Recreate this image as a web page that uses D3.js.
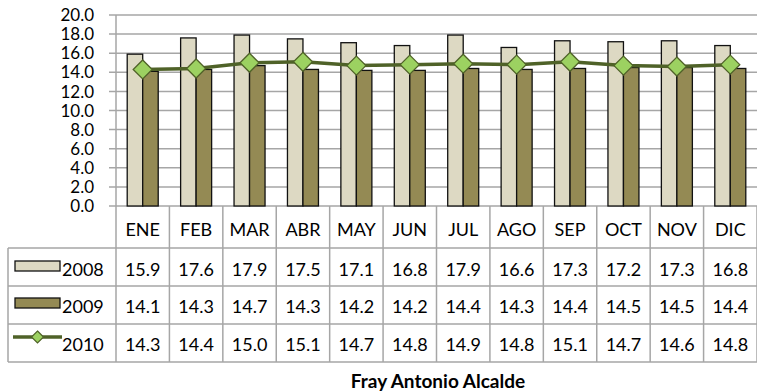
<!DOCTYPE html>
<html><head><meta charset="utf-8">
<script src="https://cdn.jsdelivr.net/npm/d3@7/dist/d3.min.js"></script>
<style>body{margin:0;background:#fff}svg{display:block}text{font-family:Lato,"Open Sans",sans-serif;fill:#000}</style>
</head><body><svg id="c" width="757" height="392"></svg>
<script>
const months = ["ENE","FEB","MAR","ABR","MAY","JUN","JUL","AGO","SEP","OCT","NOV","DIC"];
const s2008 = [15.9,17.6,17.9,17.5,17.1,16.8,17.9,16.6,17.3,17.2,17.3,16.8];
const s2009 = [14.1,14.3,14.7,14.3,14.2,14.2,14.4,14.3,14.4,14.5,14.5,14.4];
const s2010 = [14.3,14.4,15.0,15.1,14.7,14.8,14.9,14.8,15.1,14.7,14.6,14.8];
const seriesNames = ["2008","2009","2010"];
const yTicks = [0,2,4,6,8,10,12,14,16,18,20];
const title = "Fray Antonio Alcalde";

(function(){
const svg = d3.select("#c");
const pL = 116, pR = 757, pT = 15, pB = 206;
const x = d3.scaleBand().domain(months).range([pL, pR]);
const y = d3.scaleLinear().domain([0,20]).range([pB, pT]);
const gridC = "#A6A6A6";

svg.append("g").selectAll("line").data(yTicks).join("line")
  .attr("x1", pL-7).attr("x2", pR).attr("y1", d=>y(d)).attr("y2", d=>y(d))
  .attr("stroke", gridC).attr("stroke-width", 1.5);
svg.append("line").attr("x1",pL).attr("x2",pL).attr("y1",pT).attr("y2",pB).attr("stroke",gridC).attr("stroke-width",1.5);
svg.append("g").selectAll("text").data(yTicks).join("text")
  .attr("x", 94).attr("y", d=>y(d)).attr("dy","0.36em").attr("text-anchor","end")
  .attr("font-size",17).text(d=>d.toFixed(1));

const bw = 15.5;
const colors = ["#DDD9C3","#948A54"];
[s2008, s2009].forEach((s,i)=>{
  svg.append("g").selectAll("rect").data(s).join("rect")
    .attr("x",(d,j)=>x(months[j]) + x.bandwidth()/2 - bw + i*bw)
    .attr("y", d=>y(d)).attr("width", bw).attr("height", d=>y(0)-y(d))
    .attr("fill", colors[i]).attr("stroke","#111").attr("stroke-width",1.3);
});
const cx = (j)=>x(months[j]) + x.bandwidth()/2;
const line = d3.line().x((d,j)=>cx(j)).y(d=>y(d));
svg.append("path").datum(s2010).attr("d", line).attr("fill","none").attr("stroke","#4F6228").attr("stroke-width",3.5);
const diamond = (px,py,r)=>`M${px},${py-r}L${px+r},${py}L${px},${py+r}L${px-r},${py}Z`;
svg.append("g").selectAll("path").data(s2010).join("path")
  .attr("d",(d,j)=>diamond(cx(j), y(d), 9.5))
  .attr("fill","#9CD161").attr("stroke","#4F6228").attr("stroke-width",1.3);

const rowY = [206, 248, 286, 324, 362];
const tg = svg.append("g");
rowY.forEach((ry,i)=>{
  if(i===0) return;
  tg.append("line").attr("x1", 8).attr("x2", pR).attr("y1", ry).attr("y2", ry).attr("stroke",gridC).attr("stroke-width",1.5);
});
const bounds = months.map(m=>x(m)).concat([pR]);
bounds.forEach(bx=>{
  tg.append("line").attr("x1",bx).attr("x2",bx).attr("y1",206).attr("y2",362).attr("stroke",gridC).attr("stroke-width",1.5);
});
tg.append("line").attr("x1",8).attr("x2",8).attr("y1",248).attr("y2",362).attr("stroke",gridC).attr("stroke-width",1.5);

tg.selectAll("text.h").data(months).join("text").attr("class","h")
  .attr("x", m=>x(m)+x.bandwidth()/2).attr("y", 236).attr("text-anchor","middle").attr("font-size",18).text(m=>m);
const rows = [s2008, s2009, s2010];
const baselines = [276, 313, 351];
rows.forEach((s,i)=>{
  tg.append("g").selectAll("text").data(s).join("text")
    .attr("x",(d,j)=>cx(j)).attr("y", baselines[i]).attr("text-anchor","middle").attr("font-size",18).text(d=>d.toFixed(1));
  tg.append("text").attr("x", 62).attr("y", baselines[i]).attr("font-size",18).text(seriesNames[i]);
});
tg.append("rect").attr("x",15).attr("y",261).attr("width",45).attr("height",10).attr("fill",colors[0]).attr("stroke","#111").attr("stroke-width",1.3);
tg.append("rect").attr("x",15).attr("y",298).attr("width",45).attr("height",10).attr("fill",colors[1]).attr("stroke","#111").attr("stroke-width",1.3);
tg.append("line").attr("x1",13).attr("x2",62).attr("y1",337).attr("y2",337).attr("stroke","#4F6228").attr("stroke-width",3.5);
tg.append("path").attr("d",diamond(37.5,337,6)).attr("fill","#9CD161").attr("stroke","#4F6228").attr("stroke-width",1.2);

svg.append("text").attr("x",438).attr("y",388).attr("text-anchor","middle").attr("font-size",19).attr("font-weight","bold").text(title);
})();
</script></body></html>
